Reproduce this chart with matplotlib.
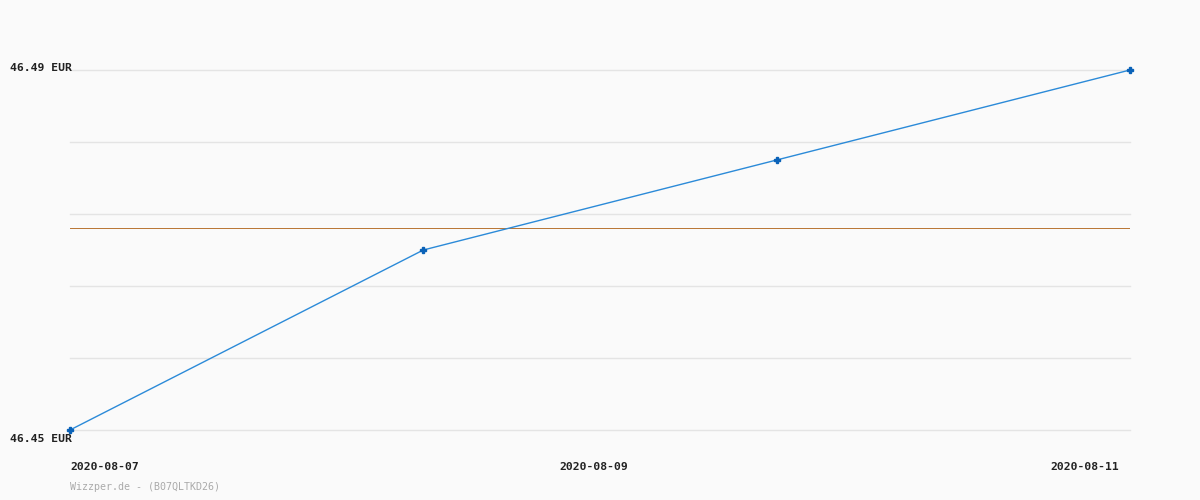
import matplotlib
matplotlib.use('Agg')
import matplotlib.pyplot as plt
import numpy as np

# price data
dates = ['2020-08-07', '2020-08-08', '2020-08-10', '2020-08-11']
prices = [46.45, 46.47, 46.48, 46.49]
tick_labels = ['2020-08-07', '2020-08-09', '2020-08-11']
y_labels = ['46.45 EUR', '46.49 EUR']
watermark = 'Wizzper.de - (B07QLTKD26)'

bg = '#fafafa'
fig = plt.figure(figsize=(12, 5), dpi=100, facecolor=bg)
ax = fig.add_axes([70/1200, 70/500, 1060/1200, 360/500], facecolor=bg)

x = np.arange(len(prices))
ymin, ymax = 46.45, 46.49

# grid lines
for g in np.linspace(ymin, ymax, 6):
    ax.axhline(g, color='#e4e4e4', lw=1, zorder=1, clip_on=False)

# average line
ax.axhline(np.mean(prices), color='#b87432', lw=0.7, zorder=2)

ax.plot(x, prices, color='#2b8ad8', lw=1, zorder=3, clip_on=False)
ax.plot(x, prices, ls='none', marker='P', ms=4, color='#0a62b8', zorder=4, clip_on=False)

ax.set_xlim(0, len(prices) - 1)
ax.set_ylim(ymin, ymax)
for s in ax.spines.values():
    s.set_visible(False)
ax.set_xticks([])
ax.set_yticks([])

mono = 'DejaVu Sans Mono'
fig.text(10/1200, 1 - 71/500, y_labels[1], fontsize=8.2, family=mono, weight='bold',
         color='#222222', va='baseline', ha='left')
fig.text(10/1200, 1 - 442/500, y_labels[0], fontsize=8.2, family=mono, weight='bold',
         color='#222222', va='baseline', ha='left')

# x labels: left, middle, right
ty = 1 - 467/500
fig.text(70/1200, ty, tick_labels[0], fontsize=8.2, family=mono, weight='bold',
         color='#222222', va='center', ha='left')
fig.text(594/1200, ty, tick_labels[1], fontsize=8.2, family=mono, weight='bold',
         color='#222222', va='center', ha='center')
fig.text(1119/1200, ty, tick_labels[2], fontsize=8.2, family=mono, weight='bold',
         color='#222222', va='center', ha='right')

fig.text(70/1200, 1 - 487/500, watermark, fontsize=7.2, family=mono,
         color='#aaaaaa', va='center', ha='left')

fig.savefig('out.png', dpi=100, facecolor=bg)
